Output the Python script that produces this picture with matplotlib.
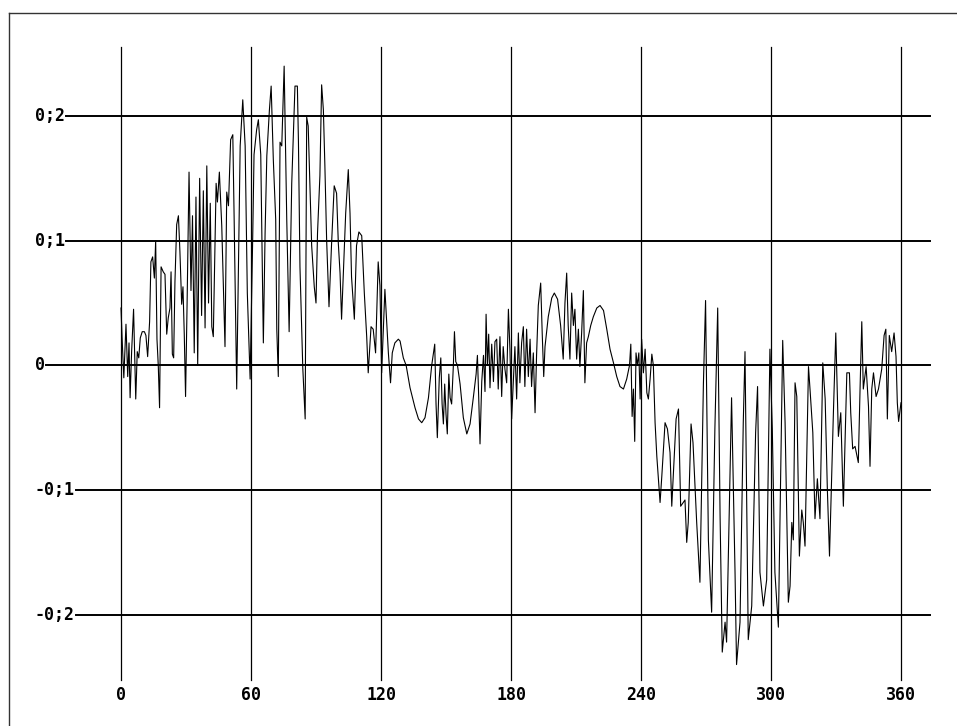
import numpy as np
import matplotlib
matplotlib.use("Agg")
import matplotlib.pyplot as plt

# Signal, split into 60 degree pieces (degrees, value)
deg_a = [0, 0.5, 1.3, 2.3, 3.1, 3.7, 4.2, 4.9, 5.8, 6.8,
         7.5, 8.2, 8.9, 9.8, 10.8, 11.5, 12.3, 13.2, 13.8, 14.6,
         15.4, 16.0, 16.6, 17.2, 17.8, 18.5, 19.5, 20.3, 21.1, 21.8,
         22.6, 23.1, 23.7, 24.3, 24.9, 25.7, 26.5, 27.2, 28.0, 28.6,
         29.2, 29.8, 30.5, 31.4, 32.3, 33.0, 33.8, 34.6, 35.4, 36.3,
         37.2, 38.0, 38.8, 39.6, 40.4, 41.2, 41.9, 42.6, 43.9, 44.5,
         45.4, 46.5, 48.0, 48.8, 49.6, 50.6, 51.6, 52.2, 53.4, 55.0,
         56.2, 57.3, 58.3, 59.6]
val_a = [0.046, 0.022, -0.010, 0.033, -0.009, 0.018, -0.026, 0.011, 0.045, -0.027,
         0.011, 0.006, 0.022, 0.027, 0.027, 0.024, 0.007, 0.035, 0.083, 0.087,
         0.070, 0.100, 0.021, 0.000, -0.034, 0.079, 0.075, 0.073, 0.025, 0.038,
         0.046, 0.075, 0.009, 0.006, 0.067, 0.113, 0.120, 0.091, 0.049, 0.063,
         0.025, -0.025, 0.049, 0.155, 0.060, 0.120, 0.010, 0.135, 0.000, 0.150,
         0.040, 0.140, 0.030, 0.160, 0.050, 0.130, 0.031, 0.023, 0.146, 0.131,
         0.155, 0.112, 0.015, 0.139, 0.128, 0.181, 0.185, 0.120, -0.019, 0.176,
         0.213, 0.176, 0.058, -0.011]

deg_b = [60.8, 61.4, 62.6, 63.4, 64.5, 65.7, 66.5, 67.3, 68.5, 69.3,
         70.3, 71.4, 71.9, 72.6, 73.4, 74.2, 75.3, 76.5, 77.6, 78.8,
         80.3, 81.4, 81.9, 82.6, 83.9, 85.0, 85.7, 86.4, 88.0, 89.2,
         90.0, 90.7, 91.8, 92.6, 93.4, 94.1, 94.9, 96.0, 97.2, 98.4,
         99.5, 100.3, 101.1, 101.8, 103.1, 103.7, 104.9, 105.7, 106.4, 107.7,
         108.7, 109.8, 111.1, 112.3, 113.4, 114.1, 115.4, 116.4, 117.5, 118.7,
         119.5]
val_b = [0.104, 0.169, 0.189, 0.197, 0.169, 0.018, 0.106, 0.168, 0.205, 0.224,
         0.165, 0.117, 0.029, -0.009, 0.179, 0.176, 0.240, 0.117, 0.027, 0.146,
         0.224, 0.224, 0.179, 0.079, -0.002, -0.043, 0.199, 0.192, 0.096, 0.063,
         0.050, 0.106, 0.152, 0.225, 0.205, 0.160, 0.101, 0.047, 0.098, 0.144,
         0.138, 0.098, 0.074, 0.037, 0.096, 0.122, 0.157, 0.122, 0.071, 0.037,
         0.096, 0.107, 0.104, 0.058, 0.023, -0.006, 0.031, 0.029, 0.010, 0.083,
         0.064]

deg_c = [120.3, 121.8, 123.4, 124.4, 125.2, 126.4, 128.0, 128.8, 130.3, 131.6,
         133.4, 135.7, 137.3, 138.8, 140.3, 141.9, 143.4, 144.2, 144.8, 145.4,
         146.0, 146.9, 147.6, 148.2, 148.8, 149.4, 150.0, 150.6, 151.3, 151.9,
         152.6, 153.4, 153.9, 154.5, 155.3, 156.5, 158.0, 159.6, 161.1, 162.6,
         163.9, 164.5, 165.1, 165.7, 166.5, 167.3, 168.0, 168.5, 169.1, 169.7,
         170.3, 171.1, 171.9, 172.6, 173.4, 174.1, 174.9, 175.7, 176.4, 177.2,
         178.0, 178.8, 179.5]
val_c = [-0.006, 0.061, 0.010, -0.014, 0.010, 0.018, 0.021, 0.0195, 0.006, 0.0,
         -0.018, -0.034, -0.043, -0.046, -0.042, -0.026, 0.0, 0.010, 0.017, -0.031,
         -0.058, -0.010, 0.006, -0.031, -0.047, -0.015, -0.039, -0.055, -0.007, -0.026,
         -0.031, 0.0, 0.027, 0.003, 0.0, -0.015, -0.042, -0.055, -0.047, -0.026,
         -0.007, 0.008, -0.026, -0.063, -0.013, 0.008, -0.021, 0.041, 0.0, 0.025,
         -0.018, 0.017, -0.013, 0.019, 0.021, -0.019, 0.023, -0.025, 0.015, -0.003,
         -0.014, 0.045, 0.013]

deg_d = [180.3, 181.1, 181.8, 182.6, 183.4, 184.1, 184.9, 185.7, 186.4, 187.2,
         188.0, 188.8, 189.5, 190.3, 191.1, 191.8, 192.6, 193.7, 194.4, 195.1,
         195.7, 197.2, 198.8, 200.0, 201.5, 202.9, 204.1, 204.9, 205.7, 206.4,
         207.2, 208.0, 208.8, 209.5, 210.3, 211.1, 211.8, 212.6, 213.4, 214.1,
         214.9, 215.7, 216.8, 218.0, 219.6, 221.1, 222.7, 224.2, 225.7, 227.3,
         228.8, 230.3, 231.9, 233.4, 234.7, 235.3, 235.9, 236.5, 237.1, 237.7,
         238.3, 239.0, 239.6]
val_d = [-0.043, -0.011, 0.015, -0.027, 0.026, -0.014, 0.018, 0.031, -0.017, 0.029,
         -0.009, 0.021, -0.017, 0.010, -0.038, 0.008, 0.048, 0.066, 0.026, -0.009,
         0.015, 0.039, 0.054, 0.058, 0.053, 0.032, 0.005, 0.050, 0.074, 0.032,
         0.005, 0.058, 0.032, 0.045, 0.005, 0.029, -0.001, 0.026, 0.060, -0.014,
         0.018, 0.023, 0.032, 0.039, 0.046, 0.048, 0.044, 0.029, 0.013, 0.002,
         -0.009, -0.017, -0.019, -0.011, 0.0, 0.017, -0.041, -0.019, -0.061, 0.010,
         0.0, 0.010, -0.027]

deg_e = [240.3, 241.1, 241.9, 242.7, 243.4, 244.2, 245.0, 245.7, 246.5, 247.3,
         248.8, 249.6, 251.1, 252.2, 253.4, 254.2, 256.2, 257.3, 258.3, 260.3,
         261.1, 261.8, 263.1, 264.0, 265.7, 267.2, 268.8, 269.8, 271.1, 272.6,
         274.1, 275.4, 276.5, 277.5, 278.8, 279.5, 281.1, 281.8, 283.4, 284.1,
         285.7, 287.2, 288.0, 289.5, 291.1, 292.9, 293.8, 294.9, 296.5, 298.0,
         299.5]
val_e = [0.021, -0.006, 0.013, -0.022, -0.027, -0.011, 0.009, 0.0, -0.046, -0.073,
         -0.110, -0.089, -0.046, -0.051, -0.070, -0.113, -0.043, -0.035, -0.113, -0.108,
         -0.142, -0.126, -0.047, -0.062, -0.126, -0.174, -0.015, 0.052, -0.140, -0.198,
         -0.051, 0.046, -0.121, -0.230, -0.206, -0.222, -0.086, -0.026, -0.166, -0.240,
         -0.206, -0.046, 0.011, -0.220, -0.193, -0.054, -0.017, -0.166, -0.193, -0.172,
         0.013]

deg_f = [300.6, 301.8, 303.4, 305.4, 306.5, 308.0, 308.8, 309.6, 310.3, 311.1,
         311.9, 313.1, 314.2, 314.9, 315.7, 317.3, 318.0, 319.3, 320.3, 321.4,
         322.6, 323.9, 325.0, 326.0, 327.0, 328.0, 328.8, 329.9, 331.1, 332.2,
         333.4, 335.0, 336.2, 336.8, 337.7, 338.8, 340.3, 341.1, 341.9, 342.6,
         343.9, 345.0, 345.7, 346.5, 347.3, 348.5, 349.6, 351.1, 352.2, 353.0,
         353.7, 354.6, 355.7, 356.8, 357.7, 358.3, 358.9, 360.0]
val_f = [-0.051, -0.166, -0.210, 0.020, -0.046, -0.190, -0.177, -0.126, -0.140, -0.014,
         -0.025, -0.153, -0.116, -0.126, -0.145, -0.001, -0.019, -0.054, -0.123, -0.091,
         -0.123, 0.002, -0.027, -0.099, -0.153, -0.089, -0.038, 0.026, -0.057, -0.038,
         -0.113, -0.006, -0.006, -0.038, -0.067, -0.065, -0.078, -0.019, 0.035, -0.019,
         -0.001, -0.033, -0.081, -0.019, -0.006, -0.025, -0.019, -0.003, 0.024, 0.029,
         -0.043, 0.024, 0.011, 0.026, 0.007, -0.030, -0.045, -0.030]

# Grid / tick labels
x_ticks = [0, 60, 120, 180, 240, 300, 360]
y_ticks = [0.2, 0.1, 0.0, -0.1, -0.2]
y_tick_labels = ["0;2", "0;1", "0", "-0;1", "-0;2"]

x = np.concatenate([deg_a, deg_b, deg_c, deg_d, deg_e, deg_f])
y = np.concatenate([val_a, val_b, val_c, val_d, val_e, val_f])

W, H, DPI = 957, 726, 100
fig = plt.figure(figsize=(W / DPI, H / DPI), dpi=DPI)
ax = fig.add_axes([0, 0, 1, 1])
ax.set_axis_off()

# pixel scale of the plot (x=0 at px 121, x=360 at px 901; y=0.2 at py 116, y=-0.2 at py 614.7)
px_per_deg = (901 - 121) / 360
px_per_unit = (614.7 - 116) / 0.4
ax.set_xlim(-121 / px_per_deg, (W - 121) / px_per_deg)
ax.set_ylim(-0.2 - (H - 614.7) / px_per_unit, 0.2 + 116 / px_per_unit)

font = dict(family="DejaVu Sans Mono", weight="bold", color="black")

# vertical grid lines and x labels
grid_top = 0.2 + (116 - 46.5) / px_per_unit
grid_bottom = -0.2 - (680 - 614.7) / px_per_unit
for xt in x_ticks:
    ax.plot([xt, xt], [grid_bottom, grid_top], color="black", lw=0.9)
    ax.text(xt, -0.2 - (695 - 614.7) / px_per_unit, str(xt), ha="center", va="center",
            fontsize=12, **font)

# horizontal lines start right after their label
label_x = (35 - 121) / px_per_deg
line_end = (930 - 121) / px_per_deg
labels = []
for yt, lab in zip(y_ticks, y_tick_labels):
    labels.append(ax.text(label_x, yt, lab, ha="left", va="center", fontsize=12, **font))
fig.canvas.draw()
renderer = fig.canvas.get_renderer()
inv = ax.transData.inverted()
for yt, t in zip(y_ticks, labels):
    bb = t.get_window_extent(renderer)
    x_start = inv.transform((bb.x1 + 1, 0))[0]
    ax.plot([x_start, line_end], [yt, yt], color="black", lw=1.4)

# the signal
ax.plot(x, y, color="black", lw=0.8)

# frame lines at top and left
fig.add_artist(plt.Line2D([9 / W, 1], [1 - 12.5 / H, 1 - 12.5 / H], color="#333333", lw=1))
fig.add_artist(plt.Line2D([9 / W, 9 / W], [0, 1 - 12.5 / H], color="#333333", lw=1))

fig.savefig("out.png", dpi=DPI, facecolor="white")
